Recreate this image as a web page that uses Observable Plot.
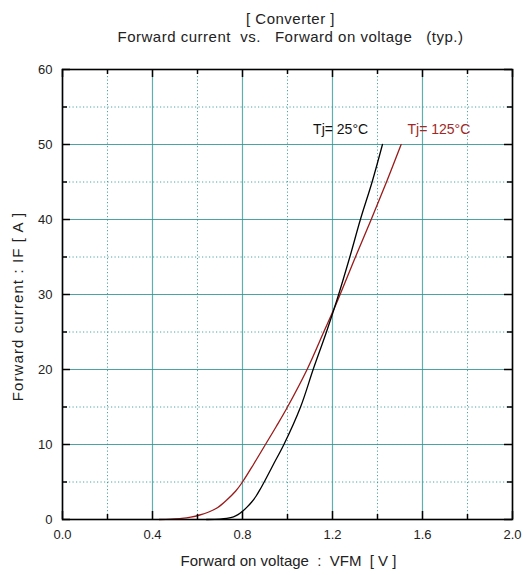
<!DOCTYPE html>
<html>
<head>
<meta charset="utf-8">
<script src="https://cdn.jsdelivr.net/npm/d3@7"></script>
<script src="https://cdn.jsdelivr.net/npm/@observablehq/plot@0.6"></script>
<style>
  html, body { margin: 0; padding: 0; background: #fff; }
  #chart svg { display: block; }
</style>
</head>
<body>
<div id="chart"></div>
<script>
const titleLines = ["[ Converter ]", "Forward current  vs.   Forward on voltage   (typ.)"];
const xLabel = "Forward on voltage  :  VFM  [ V ]";
const yLabel = "Forward current : IF [ A ]";

const xMajor = [0, 0.4, 0.8, 1.2, 1.6, 2.0];
const xMinor = [0.2, 0.6, 1.0, 1.4, 1.8];
const yMajor = [0, 10, 20, 30, 40, 50, 60];
const yMinor = [5, 15, 25, 35, 45, 55];

const seriesNames = ["Tj= 25°C", "Tj= 125°C"];
const vf25  = [0.64, 0.70, 0.73, 0.76, 0.78, 0.80, 0.82, 0.84, 0.86, 0.88, 0.90, 0.94, 0.984, 1.058, 1.114, 1.173, 1.22, 1.277, 1.324, 1.376, 1.422];
const if25  = [0, 0.06, 0.15, 0.35, 0.65, 1.1, 1.65, 2.3, 3.1, 4.1, 5.2, 7.5, 10, 15, 20, 25, 29.3, 35, 40, 45, 50];
const vf125 = [0.43, 0.48, 0.53, 0.57, 0.61, 0.65, 0.69, 0.73, 0.77, 0.80, 0.85, 0.90, 0.95, 1.0, 1.087, 1.161, 1.22, 1.302, 1.372, 1.44, 1.505];
const if125 = [0, 0.05, 0.15, 0.32, 0.6, 1.0, 1.6, 2.6, 3.8, 5.0, 7.4, 9.9, 12.4, 15, 20, 25, 29, 35, 40, 45, 50];
const labelV = [1.236, 1.673];
const labelI = [52, 52];

const colors = ["#000000", "#9a1a1a"];
const textColors = ["#111111", "#a02828"];

const s25 = vf25.map((v, i) => ({v, i: if25[i]}));
const s125 = vf125.map((v, i) => ({v, i: if125[i]}));
const labels = seriesNames.map((name, k) => ({name, v: labelV[k], i: labelI[k], c: textColors[k]}));

const teal = "#2a9494";
const font = "Liberation Sans, Arial, sans-serif";

const W = 523, H = 575, mT = 69, mL = 62, mR = 11, mB = 56;
const plotW = W - mL - mR, plotH = H - mT - mB;
const majorLen = 8, minorLen = 5;
const tickStyle = {stroke: "#000", strokeWidth: 1.5};

const chart = Plot.plot({
  width: W,
  height: H,
  marginTop: mT,
  marginLeft: mL,
  marginRight: mR,
  marginBottom: mB,
  style: {fontFamily: font, background: "#fff", overflow: "visible"},
  x: {domain: [0, 2], axis: null},
  y: {domain: [0, 60], axis: null},
  marks: [
    Plot.ruleX(xMinor, {stroke: teal, strokeWidth: 1, strokeDasharray: "1.2,2.3", strokeOpacity: 0.85}),
    Plot.ruleY(yMinor, {stroke: teal, strokeWidth: 1, strokeDasharray: "1.2,2.3", strokeOpacity: 0.85}),
    Plot.ruleX(xMajor, {stroke: teal, strokeWidth: 1.2, strokeOpacity: 0.75}),
    Plot.ruleY(yMajor, {stroke: teal, strokeWidth: 1.2, strokeOpacity: 0.85}),
    Plot.line(s125, {x: "v", y: "i", stroke: colors[1], strokeWidth: 1.3, curve: "catmull-rom"}),
    Plot.line(s25, {x: "v", y: "i", stroke: colors[0], strokeWidth: 1.3, curve: "catmull-rom"}),
    Plot.text(labels, {x: "v", y: "i", text: "name", fill: "c", fontSize: 14, fontFamily: font}),
    // inward ticks on all four sides
    Plot.ruleX(xMajor, {...tickStyle, insetTop: plotH - majorLen}),
    Plot.ruleX(xMinor, {...tickStyle, insetTop: plotH - minorLen}),
    Plot.ruleX(xMajor, {...tickStyle, insetBottom: plotH - majorLen}),
    Plot.ruleX(xMinor, {...tickStyle, insetBottom: plotH - minorLen}),
    Plot.ruleY(yMajor, {...tickStyle, insetRight: plotW - majorLen}),
    Plot.ruleY(yMinor, {...tickStyle, insetRight: plotW - minorLen}),
    Plot.ruleY(yMajor, {...tickStyle, insetLeft: plotW - majorLen}),
    Plot.ruleY(yMinor, {...tickStyle, insetLeft: plotW - minorLen}),
    // tick labels
    Plot.axisX(xMajor, {anchor: "bottom", tickSize: 0, tickPadding: 10, label: null, tickFormat: d3.format(".1f"), fontSize: 13, fill: "#222", fontFamily: font}),
    Plot.axisY(yMajor, {anchor: "left", tickSize: 0, tickPadding: 10, label: null, tickFormat: d3.format("d"), fontSize: 13, fill: "#222", fontFamily: font}),
    Plot.frame({stroke: "#000", strokeWidth: 1.6}),
    // titles and axis labels
    Plot.text([titleLines[0]], {frameAnchor: "top", dy: -56, dx: 3, text: d => d, fontSize: 15, fill: "#222", fontFamily: font}),
    Plot.text([titleLines[1]], {frameAnchor: "top", dy: -38, dx: 3, text: d => d, fontSize: 15, fill: "#222", fontFamily: font}),
    Plot.text([xLabel], {frameAnchor: "bottom", dy: 46, dx: 1, text: d => d, fontSize: 15, fill: "#222", fontFamily: font}),
    Plot.text([yLabel], {frameAnchor: "left", textAnchor: "middle", dx: -44, dy: 12, rotate: -90, text: d => d, fontSize: 15, fill: "#222", fontFamily: font})
  ]
});

// letter spacing to match the wide typeface of the reference
d3.select(chart).selectAll("text").each(function () {
  const t = this.textContent;
  if (t === titleLines[1] || t === titleLines[0]) this.style.letterSpacing = "0.5px";
  if (t === yLabel) this.style.letterSpacing = "1.1px";
});

document.getElementById("chart").appendChild(chart);
</script>
</body>
</html>
